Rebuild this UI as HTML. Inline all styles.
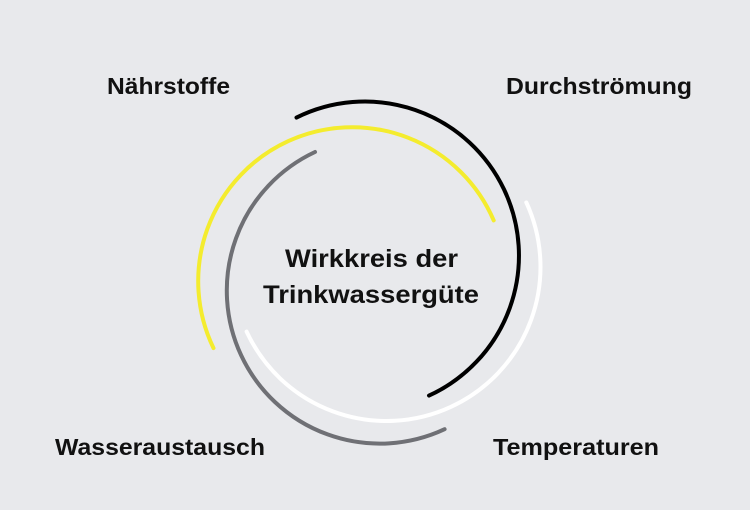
<!DOCTYPE html>
<html><head><style>html,body{margin:0;padding:0;background:#e8e9ec;}svg{display:block}</style></head>
<body>
<svg width="750" height="510" viewBox="0 0 750 510" xmlns="http://www.w3.org/2000/svg">
<rect width="750" height="510" fill="#e8e9ec"/>
<g fill="none" stroke-width="4" stroke-linecap="round">
<path d="M213.5 348.1 A154 154 0 1 1 493.7 220.4" stroke="#f4ec2e"/>
<path d="M246.6 331.6 A154 154 0 0 0 526.3 202.4" stroke="#ffffff"/>
<path d="M315 152 A153 153 0 1 0 444.6 429.2" stroke="#6f7075"/>
<path d="M296.5 117.6 A154 154 0 1 1 429 395.6" stroke="#000"/>
</g>
<g font-family="Liberation Sans, Arial, sans-serif" font-weight="bold" fill="#111">
<text x="107" y="94" font-size="23" textLength="123" lengthAdjust="spacingAndGlyphs">Nährstoffe</text>
<text x="506" y="94" font-size="23" textLength="186" lengthAdjust="spacingAndGlyphs">Durchströmung</text>
<text x="55" y="455" font-size="23" textLength="210" lengthAdjust="spacingAndGlyphs">Wasseraustausch</text>
<text x="493" y="455" font-size="23" textLength="166" lengthAdjust="spacingAndGlyphs">Temperaturen</text>
<text x="285" y="267" font-size="25" textLength="173" lengthAdjust="spacingAndGlyphs">Wirkkreis der</text>
<text x="263" y="303" font-size="25" textLength="216" lengthAdjust="spacingAndGlyphs">Trinkwassergüte</text>
</g>
</svg>
</body></html>
